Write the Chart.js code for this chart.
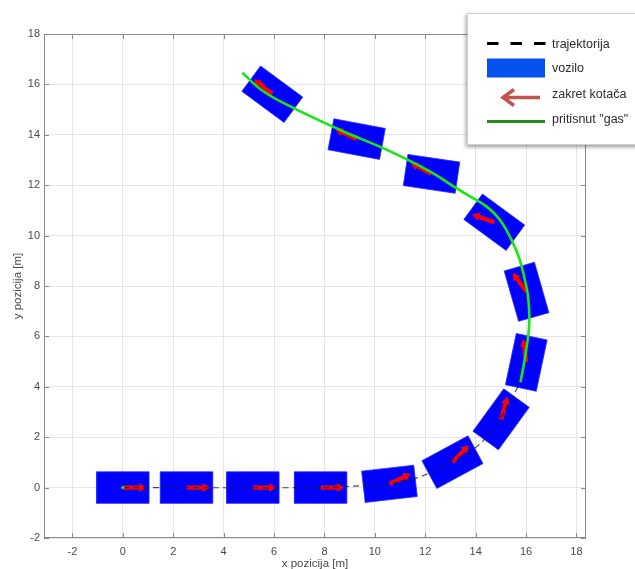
<!DOCTYPE html>
<html>
<head>
<meta charset="utf-8">
<script src="https://cdn.jsdelivr.net/npm/chart.js@4.4.0/dist/chart.umd.min.js"></script>
<style>
html, body { margin: 0; padding: 0; background: #fff; }
canvas { display: block; }
</style>
</head>
<body>
<canvas id="chart" width="635" height="569"></canvas>
<script>
// vehicle snapshots: centre [m], heading [deg], wheel arrow direction [deg]
const vehX = [0, 2.53, 5.16, 7.85, 10.58, 13.08, 15.01, 16.01, 16.02, 14.74, 12.25, 9.28, 5.93];
const vehY = [0, 0, 0, 0, 0.15, 1.01, 2.71, 4.97, 7.77, 10.53, 12.45, 13.83, 15.61];
const vehHeading = [0, 0, 0, 0, 6.5, 28.3, 54, 78, 106, 143.8, 171.6, 169.4, 143.6];
const wheelDir = [0, 0, 0, 0, 25, 45.8, 74, 97, 126, 160.5, 152, 155, 141];

// trajectory (dashed)
const trajX = [0, 8, 9.0, 10.6, 11.85, 12.98, 13.9, 14.76, 15.62, 15.78, 15.99, 16.13, 16.08, 15.95, 15.75, 15.42, 14.96, 14.43, 13.77, 13.11, 12.18, 10.46, 8.74, 6.76, 5.57, 4.74];
const trajY = [0, 0, 0.05, 0.16, 0.45, 1.04, 1.51, 2.43, 3.89, 4.18, 5.35, 6.54, 7.59, 8.25, 9.05, 9.84, 10.63, 11.16, 11.56, 11.96, 12.55, 13.41, 14.14, 15.07, 15.73, 16.46];

// part of the path with throttle pressed (green), plus the short press at the start
const gasX = [15.78, 15.99, 16.13, 16.08, 15.95, 15.75, 15.42, 14.96, 14.43, 13.77, 13.11, 12.18, 10.46, 8.74, 6.76, 5.57, 4.74];
const gasY = [4.18, 5.35, 6.54, 7.59, 8.25, 9.05, 9.84, 10.63, 11.16, 11.56, 11.96, 12.55, 13.41, 14.14, 15.07, 15.73, 16.46];
const gasStartX = [0];
const gasStartY = [0];

const xTicks = [-2, 0, 2, 4, 6, 8, 10, 12, 14, 16, 18];
const yTicks = [-2, 0, 2, 4, 6, 8, 10, 12, 14, 16, 18];
const legendLabels = ['trajektorija', 'vozilo', 'zakret kotača', 'pritisnut "gas"'];

const carLen = 2.08, carWid = 1.25, arrowLen = 0.74;
const rad = d => d * Math.PI / 180;

const datasets = [];

datasets.push({
    data: gasX.map((x, i) => ({ x: x, y: gasY[i] })),
    showLine: true, borderColor: '#17e617', borderWidth: 2.6, tension: 0.4,
    pointRadius: 0, order: 0
});

datasets.push({
    data: gasStartX.map((x, i) => ({ x: x, y: gasStartY[i] })),
    pointRadius: 1.6, pointBackgroundColor: '#17e617', pointBorderWidth: 0, order: 0
});

datasets.push({
    data: trajX.map((x, i) => ({ x: x, y: trajY[i] })),
    showLine: true, borderColor: 'rgba(30,30,30,0.8)', borderWidth: 1.2, tension: 0.4,
    borderDash: [6, 4], pointRadius: 0, order: 1
});

for (let i = 0; i < vehX.length; i++) {
    const a = rad(wheelDir[i]);
    datasets.push({
        data: [
            { x: vehX[i], y: vehY[i] },
            { x: vehX[i] + arrowLen * Math.cos(a), y: vehY[i] + arrowLen * Math.sin(a) }
        ],
        showLine: true, borderColor: '#ff0000', borderWidth: 4.2,
        pointRadius: [0, 5], pointStyle: 'triangle',
        pointRotation: [0, 90 - wheelDir[i]],
        pointBackgroundColor: '#ff0000', pointBorderWidth: 0,
        order: 2
    });

    // rectangle corners from centre, heading and size
    const h = rad(vehHeading[i]);
    const ux = Math.cos(h), uy = Math.sin(h), vx = -Math.sin(h), vy = Math.cos(h);
    const hl = carLen / 2, hw = carWid / 2;
    const c = [[hl, hw], [-hl, hw], [-hl, -hw], [hl, -hw], [hl, hw]];
    datasets.push({
        data: c.map(p => ({ x: vehX[i] + p[0] * ux + p[1] * vx, y: vehY[i] + p[0] * uy + p[1] * vy })),
        showLine: true, fill: 'shape', backgroundColor: '#0000ff',
        borderColor: '#2a2aff', borderWidth: 0.8, pointRadius: 0, order: 3
    });
}

// axes box with inward ticks, and the legend box
const framePlugin = {
    id: 'frame',
    afterDatasetsDraw(chart) {
        const ctx = chart.ctx, a = chart.chartArea;
        const xs = chart.scales.x, ys = chart.scales.y;
        ctx.save();
        ctx.strokeStyle = '#8a8a8a';
        ctx.lineWidth = 1;
        ctx.strokeRect(a.left + 0.5, a.top + 0.5, a.right - a.left - 1, a.bottom - a.top - 1);
        ctx.beginPath();
        xTicks.forEach(v => {
            const px = Math.round(xs.getPixelForValue(v)) + 0.5;
            ctx.moveTo(px, a.bottom); ctx.lineTo(px, a.bottom - 5);
            ctx.moveTo(px, a.top); ctx.lineTo(px, a.top + 5);
        });
        yTicks.forEach(v => {
            const py = Math.round(ys.getPixelForValue(v)) + 0.5;
            ctx.moveTo(a.left, py); ctx.lineTo(a.left + 5, py);
            ctx.moveTo(a.right, py); ctx.lineTo(a.right - 5, py);
        });
        ctx.stroke();
        ctx.restore();
    },
    afterDraw(chart) {
        const ctx = chart.ctx;
        ctx.save();
        // box with shadow
        ctx.shadowColor = 'rgba(0,0,0,0.4)';
        ctx.shadowBlur = 4;
        ctx.shadowOffsetX = -1;
        ctx.shadowOffsetY = 2;
        ctx.fillStyle = '#ffffff';
        ctx.fillRect(467, 13, 180, 132);
        ctx.shadowColor = 'transparent';
        ctx.strokeStyle = '#d0d0d0';
        ctx.lineWidth = 1;
        ctx.strokeRect(467.5, 13.5, 180, 131);

        // trajektorija
        ctx.strokeStyle = '#000';
        ctx.lineWidth = 3;
        ctx.setLineDash([11.5, 12]);
        ctx.beginPath(); ctx.moveTo(487, 43.5); ctx.lineTo(546, 43.5); ctx.stroke();
        ctx.setLineDash([]);

        // vozilo
        ctx.fillStyle = '#0552f0';
        ctx.fillRect(487, 58.5, 58, 19);

        // zakret kotaca
        ctx.strokeStyle = '#c25550';
        ctx.lineWidth = 3.5;
        ctx.beginPath();
        ctx.moveTo(540, 97.5); ctx.lineTo(504, 97.5);
        ctx.moveTo(514, 89.5); ctx.lineTo(503, 97.5); ctx.lineTo(514, 105.5);
        ctx.stroke();

        // pritisnut gas
        ctx.strokeStyle = '#2c8a1e';
        ctx.lineWidth = 3;
        ctx.beginPath(); ctx.moveTo(487, 121.5); ctx.lineTo(545, 121.5); ctx.stroke();

        ctx.fillStyle = '#2b2b2b';
        ctx.font = '12.5px "Liberation Sans", Arial, sans-serif';
        ctx.textBaseline = 'middle';
        const ty = [45, 69, 95, 120];
        legendLabels.forEach((t, i) => ctx.fillText(t, 552, ty[i]));
        ctx.restore();
    }
};

const tickFont = { family: '"Liberation Sans", Arial, sans-serif', size: 11 };
const titleFont = { family: '"Liberation Sans", Arial, sans-serif', size: 11.5 };

new Chart(document.getElementById('chart'), {
    type: 'scatter',
    data: { datasets: datasets },
    options: {
        responsive: false,
        devicePixelRatio: 1,
        animation: false,
        events: [],
        layout: { padding: { top: 34, right: 49, left: 0, bottom: 0 } },
        plugins: { legend: { display: false }, tooltip: { enabled: false } },
        scales: {
            x: {
                type: 'linear', min: -3.13, max: 18.38,
                afterBuildTicks: s => { s.ticks = xTicks.map(v => ({ value: v })); },
                afterFit: s => { s.height = 31; },
                grid: { color: '#e6e6e6', drawTicks: false },
                border: { display: false },
                ticks: { font: tickFont, color: '#4a4a4a', padding: 7, maxRotation: 0 },
                title: { display: true, text: 'x pozicija [m]', font: titleFont, color: '#4a4a4a', padding: { top: 0, bottom: -2 } }
            },
            y: {
                type: 'linear', min: -2, max: 18,
                afterBuildTicks: s => { s.ticks = yTicks.map(v => ({ value: v })); },
                afterFit: s => { s.width = 44; },
                grid: { color: '#e6e6e6', drawTicks: false },
                border: { display: false },
                ticks: { font: tickFont, color: '#4a4a4a', padding: 4 },
                title: { display: true, text: 'y pozicija [m]', font: titleFont, color: '#4a4a4a', padding: { top: 11, bottom: 0 } }
            }
        }
    },
    plugins: [framePlugin]
});
</script>
</body>
</html>
